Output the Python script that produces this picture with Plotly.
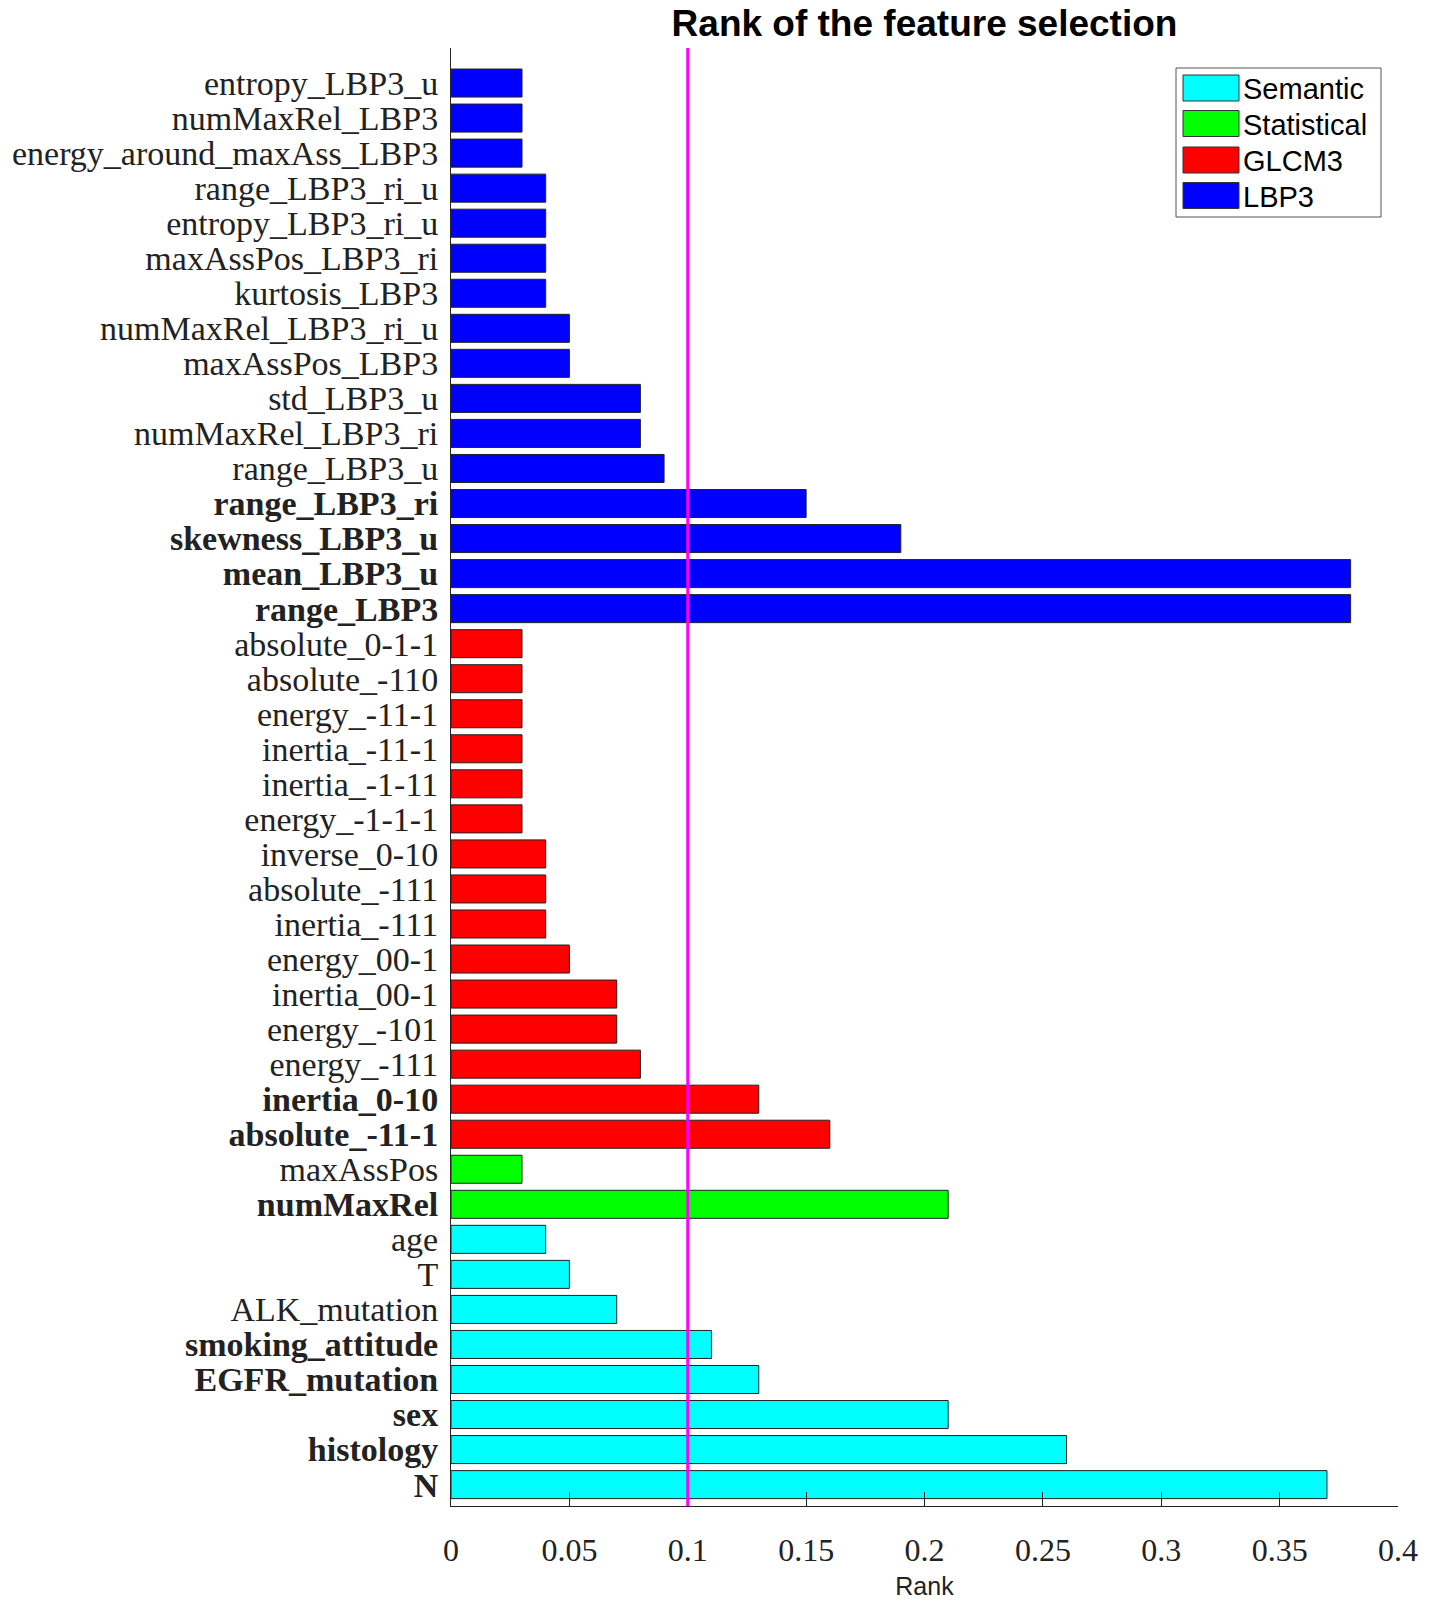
import plotly.graph_objects as go

# Data (top to bottom as in the picture)
lbp3_names = ["entropy_LBP3_u", "numMaxRel_LBP3", "energy_around_maxAss_LBP3", "range_LBP3_ri_u",
              "entropy_LBP3_ri_u", "maxAssPos_LBP3_ri", "kurtosis_LBP3", "numMaxRel_LBP3_ri_u",
              "maxAssPos_LBP3", "std_LBP3_u", "numMaxRel_LBP3_ri", "range_LBP3_u",
              "range_LBP3_ri", "skewness_LBP3_u", "mean_LBP3_u", "range_LBP3"]
lbp3_vals = [0.03, 0.03, 0.03, 0.04, 0.04, 0.04, 0.04, 0.05, 0.05, 0.08, 0.08, 0.09, 0.15, 0.19, 0.38, 0.38]

glcm_names = ["absolute_0-1-1", "absolute_-110", "energy_-11-1", "inertia_-11-1", "inertia_-1-11",
              "energy_-1-1-1", "inverse_0-10", "absolute_-111", "inertia_-111", "energy_00-1",
              "inertia_00-1", "energy_-101", "energy_-111", "inertia_0-10", "absolute_-11-1"]
glcm_vals = [0.03, 0.03, 0.03, 0.03, 0.03, 0.03, 0.04, 0.04, 0.04, 0.05, 0.07, 0.07, 0.08, 0.13, 0.16]

stat_names = ["maxAssPos", "numMaxRel"]
stat_vals = [0.03, 0.21]

sem_names = ["age", "T", "ALK_mutation", "smoking_attitude", "EGFR_mutation", "sex", "histology", "N"]
sem_vals = [0.04, 0.05, 0.07, 0.11, 0.13, 0.21, 0.26, 0.37]

bold_names = {"range_LBP3_ri", "skewness_LBP3_u", "mean_LBP3_u", "range_LBP3", "inertia_0-10",
              "absolute_-11-1", "numMaxRel", "smoking_attitude", "EGFR_mutation", "sex", "histology", "N"}

threshold = 0.1
x_ticks = [0, 0.05, 0.1, 0.15, 0.2, 0.25, 0.3, 0.35, 0.4]
x_tick_text = ["0", "0.05", "0.1", "0.15", "0.2", "0.25", "0.3", "0.35", "0.4"]

groups = [
    ("Semantic", sem_names, sem_vals, "#00FFFF"),
    ("Statistical", stat_names, stat_vals, "#00FF00"),
    ("GLCM3", glcm_names, glcm_vals, "#FF0000"),
    ("LBP3", lbp3_names, lbp3_vals, "#0000FF"),
]

all_names = lbp3_names + glcm_names + stat_names + sem_names
n = len(all_names)
pos = {name: n - i for i, name in enumerate(all_names)}

W, H = 1439, 1602
L, R, T, B = 451, 41, 48, 96
PW, PH = W - L - R, H - T - B


def px(xpix):
    return (xpix - L) / PW


def py(ypix):
    return (H - B - ypix) / PH


fig = go.Figure()
for gname, names, vals, col in groups:
    fig.add_trace(go.Bar(
        x=vals, y=[pos[nm] for nm in names], orientation="h", name=gname,
        width=0.8, marker=dict(color=col, line=dict(color="#222222", width=1)),
        showlegend=False,
    ))

tickvals = [pos[nm] for nm in all_names]
ticktext = [("<b>%s</b>" % nm) if nm in bold_names else nm for nm in all_names]

fig.add_shape(type="line", xref="x", yref="paper", x0=threshold, x1=threshold, y0=0, y1=1,
              line=dict(color="#FF00FF", width=3), layer="above")

# Legend box drawn to match the wide swatches of the original
fig.add_shape(type="rect", xref="paper", yref="paper", x0=px(1176), x1=px(1381), y0=py(217), y1=py(68),
              line=dict(color="#555555", width=1), fillcolor="white", layer="above")
leg_centers = [88, 123.5, 160, 195.5]
for (gname, _, _, col), cy in zip(groups, leg_centers):
    fig.add_shape(type="rect", xref="paper", yref="paper", x0=px(1183), x1=px(1239),
                  y0=py(cy + 13), y1=py(cy - 13), line=dict(color="#333333", width=1),
                  fillcolor=col, layer="above")
    fig.add_annotation(xref="paper", yref="paper", x=px(1241), y=py(cy + 1), text=gname, showarrow=False,
                       xanchor="left", yanchor="middle",
                       font=dict(family="Liberation Sans, Arial", size=29, color="black"))

fig.update_layout(
    width=W, height=H,
    margin=dict(l=L, r=R, t=T, b=B, autoexpand=False),
    paper_bgcolor="white", plot_bgcolor="white",
    barmode="overlay",
    title=dict(text="<b>Rank of the feature selection</b>", x=(L + W - R) / 2 / W, xanchor="center",
               y=1 - 23 / H, yanchor="middle",
               font=dict(family="Liberation Sans, Arial", size=37, color="black")),
    showlegend=False,
    xaxis=dict(range=[0, 0.4], tickvals=x_ticks, ticktext=x_tick_text, showgrid=False, zeroline=False,
               showline=True, linecolor="#222222", linewidth=1, ticks="inside", ticklen=14,
               tickcolor="#222222", tickfont=dict(family="Liberation Serif, DejaVu Serif", size=32, color="#222222"),
               ticklabelstandoff=16, automargin=False,
               title=dict(text="Rank", font=dict(family="Liberation Sans, Arial", size=25, color="#222222"), standoff=10)),
    yaxis=dict(range=[0.39, 42], tickvals=tickvals, ticktext=ticktext, showgrid=False, zeroline=False,
               showline=True, linecolor="#222222", linewidth=1, ticks="", automargin=False,
               tickfont=dict(family="Liberation Serif, DejaVu Serif", size=34, color="#222222"),
               ticklabelstandoff=5),
)

fig.write_html("out.html")
